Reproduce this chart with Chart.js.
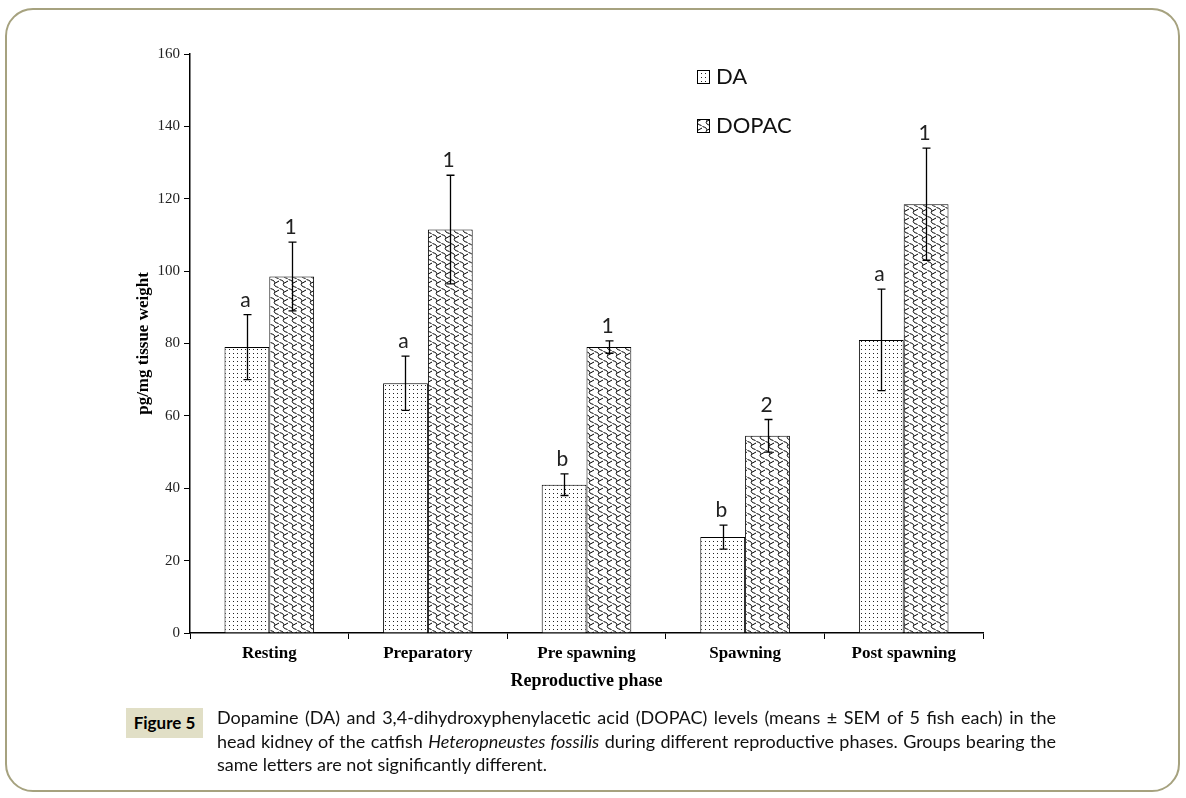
<!DOCTYPE html>
<html>
<head>
<meta charset="utf-8">
<script src="https://cdn.jsdelivr.net/npm/chart.js@4"></script>
<style>
  body { margin: 0; background: #fff; }
  #frame {
    position: absolute; left: 5px; top: 8px; width: 1171px; height: 780px;
    border: 2px solid #a6a27f; border-radius: 28px;
  }
  #wrap { position: absolute; left: 0; top: 0; }
  #fig {
    position: absolute; left: 126px; top: 708px; width: 77px; height: 30px;
    background: #e1dfc6; font: bold 17px Lato, sans-serif; line-height: 30px; text-align: center;
  }
  #caption {
    position: absolute; left: 217px; top: 706px; width: 839px;
    font: 18px Lato, sans-serif; line-height: 23.5px; color: #111; white-space: nowrap;
  }
  #caption div.j { text-align: justify; text-align-last: justify; }
</style>
</head>
<body>
<div id="frame"></div>
<div id="wrap"><canvas id="chart" width="1186" height="798"></canvas></div>
<div id="fig">Figure 5</div>
<div id="caption">
  <div class="j">Dopamine (DA) and 3,4-dihydroxyphenylacetic acid (DOPAC) levels (means ± SEM of 5 fish each) in the</div>
  <div class="j">head kidney of the catfish <i>Heteropneustes fossilis</i> during different reproductive phases. Groups bearing the</div>
  <div>same letters are not significantly different.</div>
</div>
<script>
const phases = ["Resting", "Preparatory", "Pre spawning", "Spawning", "Post spawning"];
const daMean = [79, 69, 41, 26.5, 81];
const daSem = [9, 7.5, 3, 3.3, 14];
const dopacMean = [98.5, 111.5, 79, 54.5, 118.5];
const dopacSem = [9.5, 15, 1.7, 4.5, 15.5];
const daLetters = ["a", "a", "b", "b", "a"];
const dopacLetters = ["1", "1", "1", "2", "1"];
const yTicks = [0, 20, 40, 60, 80, 100, 120, 140, 160];

// dotted fill for DA
function dotPattern() {
  const c = document.createElement("canvas");
  c.width = 4; c.height = 4;
  const g = c.getContext("2d");
  g.fillStyle = "#fff"; g.fillRect(0, 0, 4, 4);
  g.fillStyle = "#222"; g.fillRect(1, 1, 1, 1);
  return g.createPattern(c, "repeat");
}
// scale / wave fill for DOPAC
function scalePattern() {
  const c = document.createElement("canvas");
  c.width = 9; c.height = 9;
  const g = c.getContext("2d");
  g.fillStyle = "#fff"; g.fillRect(0, 0, 9, 9);
  g.strokeStyle = "#000"; g.lineWidth = 1;
  g.beginPath();
  g.moveTo(0.5, 0.5);
  g.quadraticCurveTo(6, 2, 4.5, 4.5);
  g.quadraticCurveTo(3, 7, 8.5, 8.5);
  g.stroke();
  g.beginPath();
  g.moveTo(4.5, 4.5);
  g.lineTo(9, 2);
  g.stroke();
  return g.createPattern(c, "repeat");
}

const errorBars = {
  id: "errorBars",
  afterDatasetsDraw(chart) {
    const y = chart.scales.y;
    const ctx = chart.ctx;
    const sems = [daSem, dopacSem];
    const letters = [daLetters, dopacLetters];
    ctx.save();
    ctx.strokeStyle = "#000";
    ctx.lineWidth = 1.3;
    chart.data.datasets.forEach((ds, di) => {
      chart.getDatasetMeta(di).data.forEach((bar, i) => {
        const v = ds.data[i], s = sems[di][i];
        const top = y.getPixelForValue(v + s), bot = y.getPixelForValue(v - s);
        const x = Math.round(bar.x) + 0.5;
        ctx.beginPath();
        ctx.moveTo(x, top); ctx.lineTo(x, bot);
        ctx.moveTo(x - 4, top); ctx.lineTo(x + 4, top);
        ctx.moveTo(x - 4, bot); ctx.lineTo(x + 4, bot);
        ctx.stroke();
        ctx.fillStyle = "#222";
        ctx.font = "21px Lato, sans-serif";
        ctx.textAlign = "center";
        ctx.textBaseline = "bottom";
        ctx.fillText(letters[di][i], x - 2, top - 4);
      });
    });
    // legend
    const lx = 697, rows = [77, 126];
    chart.data.datasets.forEach((ds, di) => {
      ctx.fillStyle = ds.backgroundColor;
      ctx.fillRect(lx, rows[di] - 7, 12, 13);
      ctx.lineWidth = 1;
      ctx.strokeRect(lx + 0.5, rows[di] - 6.5, 12, 13);
      ctx.fillStyle = "#111";
      ctx.font = "22px Lato, sans-serif";
      ctx.textAlign = "left";
      ctx.textBaseline = "middle";
      ctx.fillText(ds.label, lx + 19, rows[di]);
    });
    ctx.restore();
  }
};

new Chart(document.getElementById("chart"), {
  type: "bar",
  plugins: [errorBars],
  data: {
    labels: phases,
    datasets: [
      { label: "DA", data: daMean, backgroundColor: dotPattern(), borderColor: "#000", borderWidth: 1 },
      { label: "DOPAC", data: dopacMean, backgroundColor: scalePattern(), borderColor: "#000", borderWidth: 1 }
    ]
  },
  options: {
    responsive: false,
    animation: false,
    devicePixelRatio: 1,
    layout: { padding: { left: 133, top: 54, right: 203, bottom: 103 } },
    categoryPercentage: 0.565,
    barPercentage: 1,
    plugins: { legend: { display: false }, tooltip: { enabled: false } },
    scales: {
      x: {
        afterFit: (s) => { s.height = 62; },
        grid: { drawOnChartArea: false, tickLength: 6, color: "#000", lineWidth: 1 },
        border: { color: "#000", width: 1.5 },
        ticks: { color: "#000", font: { family: "Liberation Serif", size: 17, weight: "bold" }, padding: 4 },
        title: { display: true, text: "Reproductive phase", color: "#000",
                 font: { family: "Liberation Serif", size: 18, weight: "bold" }, padding: { top: 0, bottom: 3 } }
      },
      y: {
        min: 0, max: 160,
        afterFit: (s) => { s.width = 57; },
        afterBuildTicks: (s) => { s.ticks = yTicks.map(v => ({ value: v })); },
        grid: { drawOnChartArea: false, tickLength: 6, color: "#000", lineWidth: 1 },
        border: { color: "#000", width: 1.5 },
        ticks: { color: "#222", font: { family: "Liberation Serif", size: 15 }, padding: 4 },
        title: { display: true, text: "pg/mg tissue weight", color: "#000",
                 font: { family: "Liberation Serif", size: 17, weight: "bold" }, padding: 0 }
      }
    }
  }
});
</script>
</body>
</html>
